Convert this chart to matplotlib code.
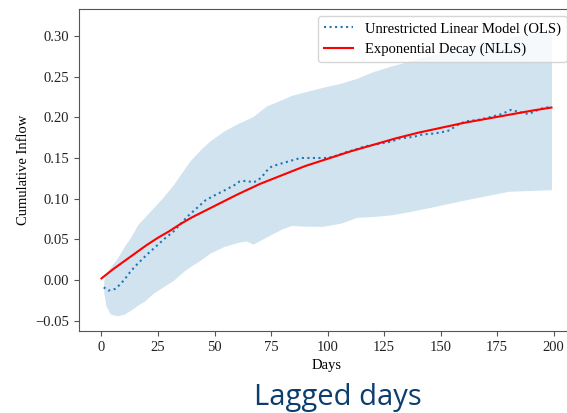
import matplotlib
matplotlib.use("Agg")
import matplotlib.pyplot as plt
import numpy as np

# OLS cumulative coefficients (dotted)
ols_days = [1, 3, 6, 8, 10, 13, 16, 20, 24, 28, 32, 35, 38, 42, 46, 50, 55, 59, 61, 64,
            67, 69, 71, 73, 75, 78, 83, 88, 95, 100, 103, 108, 112, 116, 120, 124, 128,
            132, 138, 142, 147, 151, 154, 157, 161, 167, 173, 177, 181, 184, 187, 189,
            192, 195, 199]
ols_vals = [-0.009, -0.013, -0.011, -0.006, 0.000, 0.011, 0.020, 0.031, 0.041, 0.051,
            0.060, 0.069, 0.078, 0.088, 0.098, 0.104, 0.111, 0.117, 0.121, 0.122,
            0.120, 0.122, 0.127, 0.134, 0.139, 0.142, 0.146, 0.150, 0.150, 0.150,
            0.152, 0.157, 0.160, 0.164, 0.166, 0.168, 0.170, 0.174, 0.176, 0.179,
            0.180, 0.182, 0.184, 0.190, 0.195, 0.197, 0.201, 0.204, 0.209, 0.207,
            0.205, 0.204, 0.208, 0.211, 0.213]

# confidence band
band_days = [1, 2, 4, 7, 10, 13, 16, 19, 23, 27, 32, 36, 39, 44, 48, 54, 60, 64, 67, 73,
             80, 84, 91, 98, 106, 113, 120, 128, 136, 145, 160, 180, 199]
band_upper = [0.000, 0.008, 0.016, 0.027, 0.041, 0.053, 0.068, 0.077, 0.089, 0.101,
              0.118, 0.134, 0.146, 0.161, 0.171, 0.183, 0.192, 0.197, 0.201, 0.214,
              0.222, 0.227, 0.232, 0.237, 0.242, 0.248, 0.256, 0.263, 0.269, 0.276,
              0.286, 0.298, 0.307]
band_lower = [-0.016, -0.032, -0.042, -0.044, -0.042, -0.037, -0.031, -0.026, -0.016,
              -0.009, 0.000, 0.010, 0.016, 0.025, 0.033, 0.041, 0.046, 0.048, 0.044,
              0.053, 0.063, 0.067, 0.066, 0.066, 0.070, 0.077, 0.078, 0.080, 0.084,
              0.089, 0.098, 0.109, 0.111]

# exponential decay fit (red)
exp_days = [0, 5, 10, 15, 20, 25, 30, 35, 40, 45, 50, 60, 70, 80, 90, 100, 110, 120, 130,
            140, 150, 160, 170, 180, 190, 199]
exp_vals = [0.002, 0.013, 0.023, 0.033, 0.043, 0.052, 0.060, 0.069, 0.077, 0.084, 0.091,
            0.105, 0.118, 0.129, 0.140, 0.149, 0.158, 0.166, 0.174, 0.181, 0.187, 0.193,
            0.198, 0.203, 0.208, 0.212]

plt.rcParams['font.family'] = ['Liberation Serif', 'DejaVu Serif']
plt.rcParams['font.size'] = 10.5

fig = plt.figure(figsize=(5.67, 4.13), dpi=100)
ax = fig.add_axes([0.1393, 0.1985, 0.873, 0.7795])

# band on a common grid
grid = np.arange(1, 200)
up = np.interp(grid, band_days, band_upper)
lo = np.interp(grid, band_days, band_lower)
ax.fill_between(grid, lo, up, color='C0', alpha=0.2, linewidth=0)
ax.plot(ols_days, ols_vals, ':', color='C0', lw=1.5, label='Unrestricted Linear Model (OLS)')
ax.plot(exp_days, exp_vals, '-', color='red', lw=1.5, label='Exponential Decay (NLLS)')

ax.set_xlim(-9.95, 208.95)
ax.set_ylim(-0.0627, 0.333)
ax.set_xticks(np.arange(0, 201, 25))
ax.set_yticks(np.arange(-0.05, 0.31, 0.05))
ax.set_xlabel('Days')
ax.set_ylabel('Cumulative Inflow')

for s in ax.spines.values():
    s.set_color('#555555')
ax.tick_params(colors='#555555', labelcolor='#222222')

ax.legend(loc='upper right')

fig.text(338 / 567, 1 - 398 / 413, 'Lagged days', ha='center', va='center',
         fontsize=21, color='#0b3d6e', family=['Open Sans', 'DejaVu Sans'])

fig.savefig('out.png', dpi=100)
